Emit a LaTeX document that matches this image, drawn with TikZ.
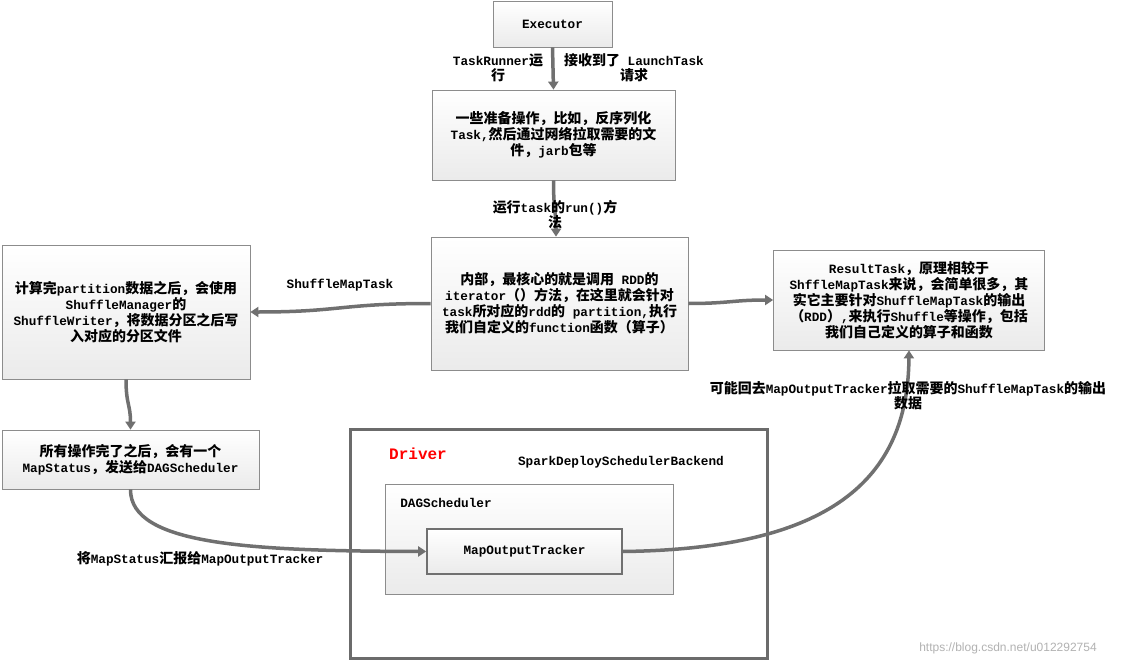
\documentclass[tikz,border=0pt]{standalone}
\usepackage{fontspec}
\setmainfont{Liberation Mono}
\setsansfont{Liberation Sans}
\newfontfamily\cjkfam{Noto Sans CJK SC}[Scale=1.1]
\XeTeXinterchartokenstate=1
\newXeTeXintercharclass\CJKcls
\count255="0021
\loop \XeTeXcharclass\count255=0 \advance\count255 by 1 \ifnum\count255<"007F \repeat
\count255="3000
\loop \XeTeXcharclass\count255=\CJKcls \advance\count255 by 1 \ifnum\count255<"3040 \repeat
\count255="4E00
\loop \XeTeXcharclass\count255=\CJKcls \advance\count255 by 1 \ifnum\count255<"A000 \repeat
\count255="FF00
\loop \XeTeXcharclass\count255=\CJKcls \advance\count255 by 1 \ifnum\count255<"FFF0 \repeat
\XeTeXinterchartoks 0 \CJKcls = {\cjkfam}
\XeTeXinterchartoks 4095 \CJKcls = {\cjkfam}
\XeTeXinterchartoks \CJKcls 0 = {\rmfamily}
\XeTeXinterchartoks \CJKcls 4095 = {\rmfamily}
\usetikzlibrary{arrows.meta}
\definecolor{linegray}{HTML}{707070}
\definecolor{boxborder}{HTML}{8C8C8C}
\definecolor{drivergray}{HTML}{6B6B6B}
\begin{document}
\begin{tikzpicture}[x=1pt,y=-1pt,
  box/.style={draw=boxborder, line width=0.8pt, top color=white, bottom color=black!8,
    align=center, font=\fontsize{12.7}{16}\selectfont\bfseries, inner sep=0pt},
  conn/.style={draw=linegray, line width=3.5pt, -{Triangle[length=8pt,width=10pt]}},
  lbl/.style={font=\fontsize{12.7}{15}\selectfont\bfseries, align=center, inner sep=1pt}]
\fill[white] (0,0) rectangle (1124,666);
\useasboundingbox (0,0) rectangle (1124,666);

% boxes
\node[box, minimum width=119pt, minimum height=46pt] (exec) at (552.5,24) {Executor};
\node[box, minimum width=243pt, minimum height=90pt] (prep) at (553.5,135)
  {一些准备操作，比如，反序列化\\Task,然后通过网络拉取需要的文\\件，jarb包等};
\node[box, minimum width=257pt, minimum height=133pt] (core) at (559.5,303.5)
  {内部，最核心的就是调用 RDD的\\iterator（）方法，在这里就会针对\\task所对应的rdd的 partition,执行\\我们自定义的function函数（算子）};
\node[box, minimum width=248pt, minimum height=134pt] (left) at (126,312)
  {计算完partition数据之后，会使用\\ShuffleManager的\\ShuffleWriter，将数据分区之后写\\入对应的分区文件};
\node[box, minimum width=257pt, minimum height=59pt] (status) at (130.5,459.5)
  {所有操作完了之后，会有一个\\MapStatus，发送给DAGScheduler};
\node[box, minimum width=271pt, minimum height=100pt] (result) at (909,300)
  {ResultTask，原理相较于\\ShffleMapTask来说，会简单很多，其\\实它主要针对ShuffleMapTask的输出\\（RDD）,来执行Shuffle等操作，包括\\我们自己定义的算子和函数};

% driver
\node[draw=drivergray, line width=3pt, minimum width=417pt, minimum height=229pt, inner sep=0pt] (driver) at (558.5,543.5) {};
\node[box, minimum width=288pt, minimum height=110pt] (dag) at (529,539) {};
\node[box, draw=linegray, line width=1.6pt, minimum width=195pt, minimum height=45pt] (mot) at (524.5,551.5) {MapOutputTracker};
\node[font=\fontsize{16}{18}\selectfont\bfseries, text=red, inner sep=0pt] (drvlbl) at (418,454) {Driver};
\node[lbl] (sdsb) at (621,462) {SparkDeploySchedulerBackend};
\node[lbl] (daglbl) at (446,503) {DAGScheduler};

% connectors
\draw[conn] (exec.south) -- (prep.north);
\draw[conn] (prep.south) .. controls +(0,30) and +(0,-25) .. (core.north -| 556,0);
\draw[conn] (core.west) .. controls +(-90,0) and +(90,0) .. (left.east);
\draw[conn] (core.east) .. controls +(40,0) and +(-40,0) .. (result.west);
\draw[conn] (left.south) .. controls +(0,25) and +(0,-25) .. (status.north);
\draw[conn] (status.south) .. controls (130,545) and (250,551) .. (mot.west);
\draw[conn] (mot.east) .. controls (830,549) and (908,480) .. (result.south);

% labels
\node[lbl] (l1) at (498,68) {TaskRunner运\\行};
\node[lbl] (l2) at (634,68) {接收到了 LaunchTask\\请求};
\node[lbl] (l3) at (555,215) {运行task的run()方\\法};
\node[lbl] (l4) at (340,285) {ShuffleMapTask};
\node[lbl] (l5) at (908,396) {可能回去MapOutputTracker拉取需要的ShuffleMapTask的输出\\数据};
\node[lbl] (l6) at (200,559) {将MapStatus汇报给MapOutputTracker};
\node[font=\fontsize{12}{13}\sffamily\selectfont, text=black!30, inner sep=0pt] (wm) at (1008,648) {https://blog.csdn.net/u012292754};
\end{tikzpicture}
\end{document}
